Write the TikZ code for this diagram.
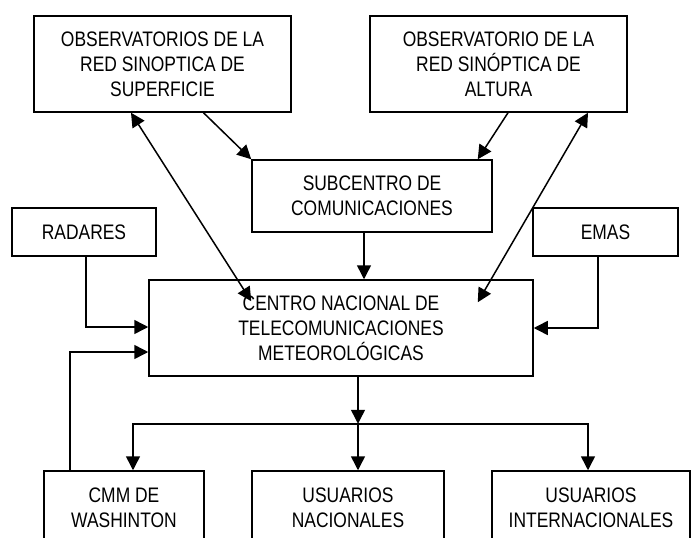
\documentclass[tikz,border=0pt]{standalone}
\usepackage{fontspec}
\setmainfont[FakeStretch=0.83]{Liberation Sans}
\usetikzlibrary{arrows.meta}
\begin{document}
\begin{tikzpicture}[x=1pt,y=-1pt,
  box/.style={draw=black,line width=1.5pt,inner sep=0pt,align=center,
    font=\fontsize{21}{25}\selectfont},
  arr/.style={line width=1.5pt,-{Triangle[length=14pt,width=14pt]}},
  darr/.style={line width=1.5pt,{Triangle[length=14pt,width=14pt]}-{Triangle[length=14pt,width=14pt]}}]
\useasboundingbox (0,0) rectangle (691,538);
\clip (0,0) rectangle (691,538);
\node[box,minimum width=257pt,minimum height=96pt] (obs1) at (162.5,64)
  {OBSERVATORIOS DE LA\\RED SINOPTICA DE\\SUPERFICIE};
\node[box,minimum width=257pt,minimum height=96pt] (obs2) at (498.5,64)
  {OBSERVATORIO DE LA\\RED SINÓPTICA DE\\ALTURA};
\node[box,minimum width=240pt,minimum height=72pt] (sub) at (372,196)
  {SUBCENTRO DE\\COMUNICACIONES};
\node[box,minimum width=144pt,minimum height=48pt] (radares) at (84,232) {RADARES};
\node[box,minimum width=145pt,minimum height=48pt] (emas) at (605.5,232) {EMAS};
\node[box,minimum width=384pt,minimum height=96pt] (centro) at (341,328)
  {CENTRO NACIONAL DE\\TELECOMUNICACIONES\\METEOROLÓGICAS};
\node[box,minimum width=160pt,minimum height=73pt] (cmm) at (124,507.5)
  {CMM DE\\WASHINTON};
\node[box,minimum width=192pt,minimum height=73pt] (usnac) at (348,507.5)
  {USUARIOS\\NACIONALES};
\node[box,minimum width=198pt,minimum height=73pt] (usint) at (591,507.5)
  {USUARIOS\\INTERNACIONALES};

% top to subcentro
\draw[arr] ([xshift=41pt]obs1.south) -- (sub.north west);
\draw[arr] ([xshift=9.5pt]obs2.south) -- ([xshift=-15pt]sub.north east);
% double arrows
\draw[darr] ([xshift=-31.5pt]obs1.south) -- ([xshift=103pt,yshift=-22pt]centro.north west);
\draw[darr] ([xshift=89.5pt]obs2.south) -- ([xshift=-56pt,yshift=-23pt]centro.north east);
% subcentro to centro
\draw[arr] ([xshift=-8pt]sub.south) -- ([xshift=-8pt]sub.south |- centro.north);
% radares, emas, cmm
\draw[arr] ([xshift=2pt]radares.south) |- ([yshift=1pt]centro.west);
\draw[arr] ([xshift=-7.5pt]emas.south) |- (centro.east);
\draw[arr] ([xshift=-54pt]cmm.north) |- ([yshift=-24pt]centro.west);
% distribution
\coordinate (j) at ([xshift=17pt,yshift=-47pt]centro.south);
\draw[arr] ([xshift=17pt]centro.south) -- (j);
\draw[arr] (j) -- (j |- usnac.north);
\draw[arr] (j) -| ([xshift=9pt]cmm.north);
\draw[arr] (j) -| ([xshift=-3pt]usint.north);
\end{tikzpicture}
\end{document}
